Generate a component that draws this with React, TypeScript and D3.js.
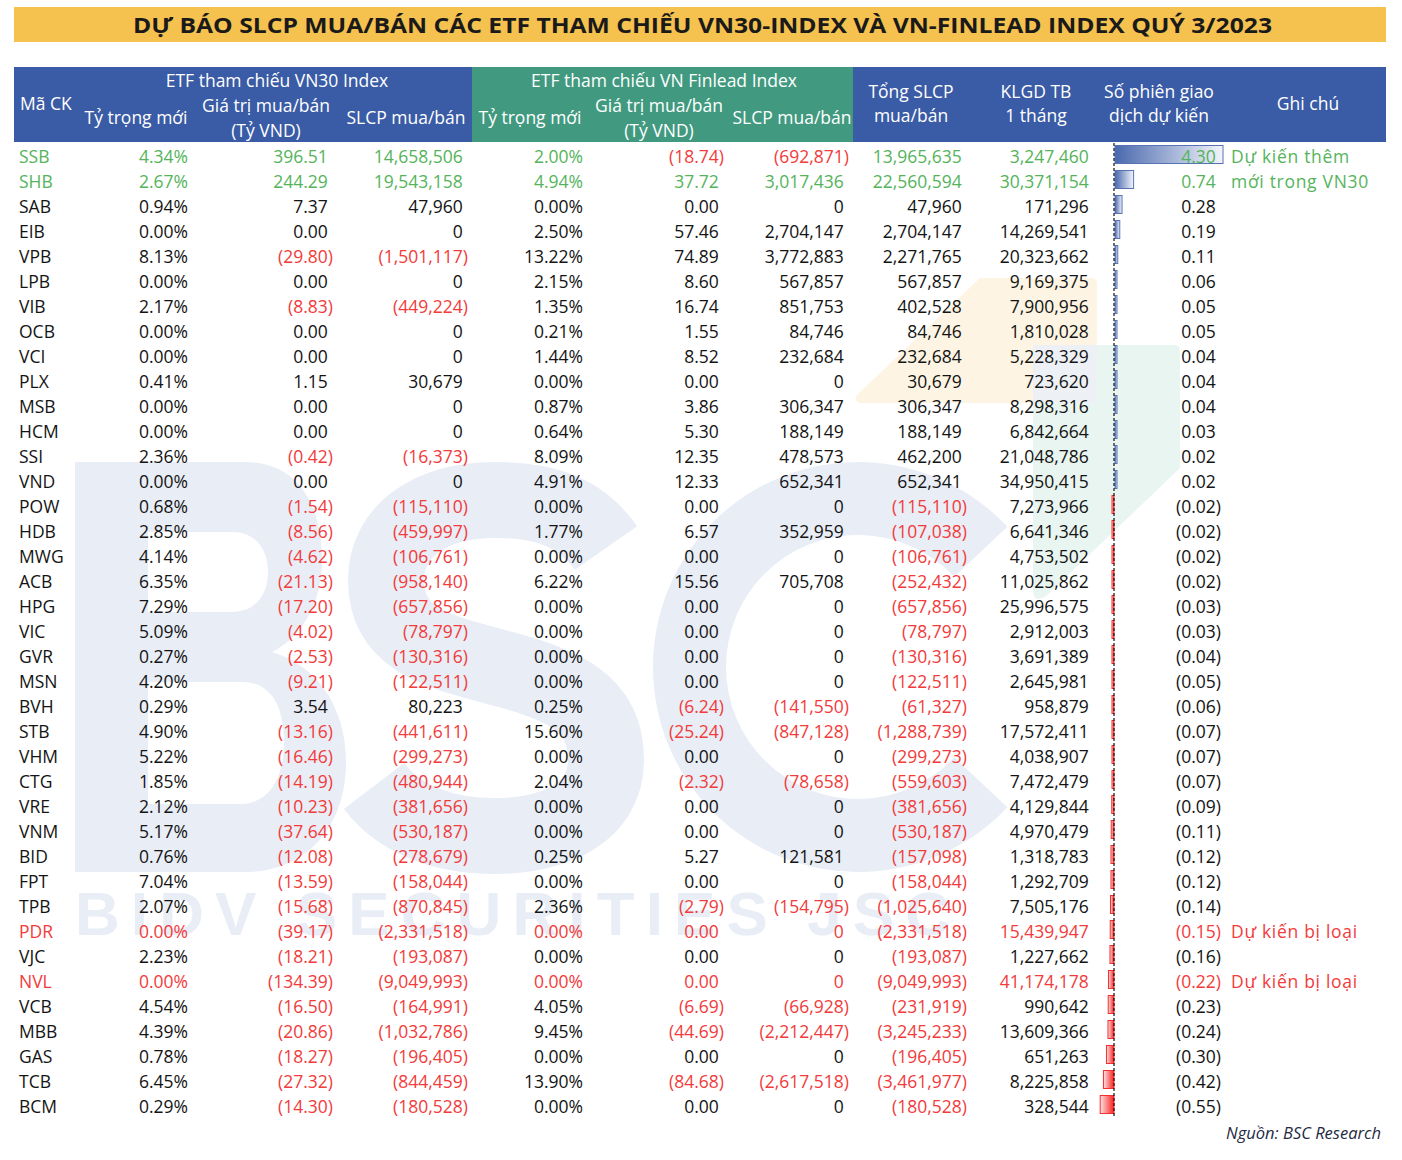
import React from "react";
import * as d3 from "d3";

// ---------------- DATA ----------------
const tickers = ["SSB","SHB","SAB","EIB","VPB","LPB","VIB","OCB","VCI","PLX","MSB","HCM","SSI","VND","POW","HDB","MWG","ACB","HPG","VIC","GVR","MSN","BVH","STB","VHM","CTG","VRE","VNM","BID","FPT","TPB","PDR","VJC","NVL","VCB","MBB","GAS","TCB","BCM"];

const vn30Weight = [4.34,2.67,0.94,0.00,8.13,0.00,2.17,0.00,0.00,0.41,0.00,0.00,2.36,0.00,0.68,2.85,4.14,6.35,7.29,5.09,0.27,4.20,0.29,4.90,5.22,1.85,2.12,5.17,0.76,7.04,2.07,0.00,2.23,0.00,4.54,4.39,0.78,6.45,0.29];
const vn30Value = [396.51,244.29,7.37,0.00,-29.80,0.00,-8.83,0.00,0.00,1.15,0.00,0.00,-0.42,0.00,-1.54,-8.56,-4.62,-21.13,-17.20,-4.02,-2.53,-9.21,3.54,-13.16,-16.46,-14.19,-10.23,-37.64,-12.08,-13.59,-15.68,-39.17,-18.21,-134.39,-16.50,-20.86,-18.27,-27.32,-14.30];
const vn30Shares = [14658506,19543158,47960,0,-1501117,0,-449224,0,0,30679,0,0,-16373,0,-115110,-459997,-106761,-958140,-657856,-78797,-130316,-122511,80223,-441611,-299273,-480944,-381656,-530187,-278679,-158044,-870845,-2331518,-193087,-9049993,-164991,-1032786,-196405,-844459,-180528];

const finWeight = [2.00,4.94,0.00,2.50,13.22,2.15,1.35,0.21,1.44,0.00,0.87,0.64,8.09,4.91,0.00,1.77,0.00,6.22,0.00,0.00,0.00,0.00,0.25,15.60,0.00,2.04,0.00,0.00,0.25,0.00,2.36,0.00,0.00,0.00,4.05,9.45,0.00,13.90,0.00];
const finValue = [-18.74,37.72,0.00,57.46,74.89,8.60,16.74,1.55,8.52,0.00,3.86,5.30,12.35,12.33,0.00,6.57,0.00,15.56,0.00,0.00,0.00,0.00,-6.24,-25.24,0.00,-2.32,0.00,0.00,5.27,0.00,-2.79,0.00,0.00,0.00,-6.69,-44.69,0.00,-84.68,0.00];
const finShares = [-692871,3017436,0,2704147,3772883,567857,851753,84746,232684,0,306347,188149,478573,652341,0,352959,0,705708,0,0,0,0,-141550,-847128,0,-78658,0,0,121581,0,-154795,0,0,0,-66928,-2212447,0,-2617518,0];

const totalShares = [13965635,22560594,47960,2704147,2271765,567857,402528,84746,232684,30679,306347,188149,462200,652341,-115110,-107038,-106761,-252432,-657856,-78797,-130316,-122511,-61327,-1288739,-299273,-559603,-381656,-530187,-157098,-158044,-1025640,-2331518,-193087,-9049993,-231919,-3245233,-196405,-3461977,-180528];
const avgVolume = [3247460,30371154,171296,14269541,20323662,9169375,7900956,1810028,5228329,723620,8298316,6842664,21048786,34950415,7273966,6641346,4753502,11025862,25996575,2912003,3691389,2645981,958879,17572411,4038907,7472479,4129844,4970479,1318783,1292709,7505176,15439947,1227662,41174178,990642,13609366,651263,8225858,328544];
const sessions = [4.30,0.74,0.28,0.19,0.11,0.06,0.05,0.05,0.04,0.04,0.04,0.03,0.02,0.02,-0.02,-0.02,-0.02,-0.02,-0.03,-0.03,-0.04,-0.05,-0.06,-0.07,-0.07,-0.07,-0.09,-0.11,-0.12,-0.12,-0.14,-0.15,-0.16,-0.22,-0.23,-0.24,-0.30,-0.42,-0.55];

const addedTickers = ["SSB","SHB"];
const removedTickers = ["PDR","NVL"];
const notes: Record<string, string> = { SSB: "Dự kiến thêm", SHB: "mới trong VN30", PDR: "Dự kiến bị loại", NVL: "Dự kiến bị loại" };

const titleText = "DỰ BÁO SLCP MUA/BÁN CÁC ETF THAM CHIẾU VN30-INDEX VÀ VN-FINLEAD INDEX QUÝ 3/2023";
const sourceText = "Nguồn: BSC Research";
const watermarkText = "BIDV SECURITIES JSC";

// ---------------- STYLE / LAYOUT ----------------
const W = 1402, H = 1160;
const FONT = "'Open Sans', 'Liberation Sans', sans-serif";
const GREEN = "#55b45b";
const RED = "#f23b3b";
const DARK = "#141414";
const BLUE_HDR = "#3a5ba5";
const GREEN_HDR = "#419a80";
const GOLD = "#f5c14f";
const WM = "#e8edf6";

const fmtPct = (v: number) => d3.format(".2f")(v) + "%";
const fmt2 = d3.format(",.2f");
const fmt0 = d3.format(",.0f");
const neg = (f: (n: number) => string) => (v: number) => (v < 0 ? `(${f(-v)})` : f(v));

type Col = { values: number[]; right: number; fmt: (v: number) => string; pad: boolean; kind: "num" | "sess" };
const columns: Col[] = [
  { values: vn30Weight, right: 188, fmt: fmtPct, pad: false, kind: "num" },
  { values: vn30Value, right: 333, fmt: neg(fmt2), pad: true, kind: "num" },
  { values: vn30Shares, right: 468, fmt: neg(fmt0), pad: true, kind: "num" },
  { values: finWeight, right: 583, fmt: fmtPct, pad: false, kind: "num" },
  { values: finValue, right: 724, fmt: neg(fmt2), pad: true, kind: "num" },
  { values: finShares, right: 849, fmt: neg(fmt0), pad: true, kind: "num" },
  { values: totalShares, right: 967, fmt: neg(fmt0), pad: true, kind: "num" },
  { values: avgVolume, right: 1094, fmt: neg(fmt0), pad: true, kind: "num" },
  { values: sessions, right: 1221, fmt: neg(fmt2), pad: true, kind: "sess" },
];

type HL = { x: number; y: number; t: string; anchor?: "start" | "middle" };
const headerLabels: HL[] = [
  { x: 20, y: 110, t: "Mã CK", anchor: "start" },
  { x: 277, y: 87, t: "ETF tham chiếu VN30 Index" },
  { x: 136, y: 124, t: "Tỷ trọng mới" },
  { x: 266, y: 112, t: "Giá trị mua/bán" },
  { x: 266, y: 137, t: "(Tỷ VND)" },
  { x: 406, y: 124, t: "SLCP mua/bán" },
  { x: 664, y: 87, t: "ETF tham chiếu VN Finlead Index" },
  { x: 530, y: 124, t: "Tỷ trọng mới" },
  { x: 659, y: 112, t: "Giá trị mua/bán" },
  { x: 659, y: 137, t: "(Tỷ VND)" },
  { x: 792, y: 124, t: "SLCP mua/bán" },
  { x: 911, y: 98, t: "Tổng SLCP" },
  { x: 911, y: 122, t: "mua/bán" },
  { x: 1036, y: 98, t: "KLGD TB" },
  { x: 1036, y: 122, t: "1 tháng" },
  { x: 1159, y: 98, t: "Số phiên giao" },
  { x: 1159, y: 122, t: "dịch dự kiến" },
  { x: 1308, y: 110, t: "Ghi chú" },
];

// watermark letter outlines (BSC logo, background artwork)
const wmB =
  "M75,462 H245 C305,462 322,515 322,560 C322,605 300,638 272,652 C318,666 346,708 346,762 C346,828 305,872 245,872 H75 Z " +
  "M148,532 H232 C258,532 268,552 268,572 C268,595 255,612 232,612 H148 Z " +
  "M148,682 H242 C272,682 284,708 284,742 C284,780 268,804 240,804 H148 Z";
const wmS =
  "M606,548 C578,508 538,500 495,500 C432,500 386,530 386,580 C386,640 440,652 496,667 C562,684 606,702 606,760 C606,812 556,836 494,836 C444,836 400,820 374,786";

export default function App() {
  const rowY = d3.scaleBand<string>().domain(tickers).range([143, 143 + 25 * tickers.length]);
  const barX = d3.scaleLinear().domain([0, 4.3]).range([1114, 1222]);
  const x0 = barX(0);
  const cArc = d3.arc()({ innerRadius: 132, outerRadius: 205, startAngle: Math.PI * 0.74, endAngle: Math.PI * 2.26 } as any) as string;

  const rowKind = (t: string) => (addedTickers.includes(t) ? "add" : removedTickers.includes(t) ? "rem" : "norm");
  const cellColor = (t: string, v: number, kind: "num" | "sess") => {
    const rk = rowKind(t);
    if (rk === "rem") return RED;
    if (v < 0) return kind === "sess" ? DARK : RED;
    return rk === "add" ? GREEN : DARK;
  };

  return (
    <svg width={W} height={H} style={{ position: "absolute", left: 0, top: 0, background: "#fff" }} fontFamily={FONT}>
      <defs>
        <linearGradient id="gPos" x1="0" x2="1" y1="0" y2="0">
          <stop offset="0" stopColor="#4a69ae" />
          <stop offset="1" stopColor="#f3f5fb" />
        </linearGradient>
        <linearGradient id="gNeg" x1="0" x2="1" y1="0" y2="0">
          <stop offset="0" stopColor="#fbe3e3" />
          <stop offset="1" stopColor="#ff1f1f" />
        </linearGradient>
      </defs>
      <rect width={W} height={H} fill="#fff" />

      {/* watermark artwork */}
      <g>
        <path d="M980,278 L1092,278 Q1097,278 1097,284 L1097,403 L862,403 Q852,402 858,394 Z" fill="#fdf4e3" />
        <path d="M1033,345 L1174,345 Q1180,345 1180,351 L1180,468 L1046,596 Q1033,604 1033,590 Z" fill="#e9f5f0" />
        <rect x={1033} y={345} width={64} height={58} fill="#edf1f6" />
        <path d={wmB} fill={WM} fillRule="evenodd" />
        <path d={wmS} fill="none" stroke={WM} strokeWidth={76} />
        <path d={cArc} transform="translate(858,667)" fill={WM} />
        <text x={75} y={935} fontFamily="'Liberation Sans', Arial, sans-serif" fontWeight="bold" fontSize={62} fill={WM}
          textLength={875} lengthAdjust="spacing">{watermarkText}</text>
      </g>

      {/* title */}
      <rect x={14} y={7} width={1372} height={35} fill={GOLD} />
      <text x={133} y={33} fontWeight="bold" fontSize={21} fill="#1a1a1a" textLength={1139} lengthAdjust="spacingAndGlyphs">{titleText}</text>

      {/* header */}
      <rect x={14} y={67} width={458} height={75} fill={BLUE_HDR} />
      <rect x={472} y={67} width={381} height={75} fill={GREEN_HDR} />
      <rect x={853} y={67} width={533} height={75} fill={BLUE_HDR} />
      <g fill="#fff" fontSize={17.5}>
        {headerLabels.map((h, i) => (
          <text key={i} x={h.x} y={h.y} textAnchor={h.anchor ?? "middle"}>{h.t}</text>
        ))}
      </g>

      {/* data bars */}
      <g>
        {tickers.map((t, i) => {
          const v = sessions[i];
          const xv = barX(v);
          const w = Math.max(2, Math.abs(xv - x0));
          const x = v >= 0 ? x0 + 1 : x0 - w;
          return (
            <rect key={t} x={x} y={(rowY(t) as number) + 2.5} width={w} height={18}
              fill={v >= 0 ? "url(#gPos)" : "url(#gNeg)"}
              stroke={v >= 0 ? "#5673b6" : "#f03030"} strokeWidth={1} />
          );
        })}
        <line x1={x0} x2={x0} y1={143} y2={1117} stroke="#111" strokeWidth={1.2} strokeDasharray="3,2" />
      </g>

      {/* body */}
      <g fontSize={17.5}>
        {tickers.map((t, i) => {
          const y = (rowY(t) as number) + 19.5;
          const rk = rowKind(t);
          return (
            <g key={t}>
              <text x={19} y={y} fill={rk === "add" ? GREEN : rk === "rem" ? RED : DARK}>{t}</text>
              {columns.map((c, j) => {
                const v = c.values[i];
                return (
                  <text key={j} x={c.right} y={y} textAnchor="end" fill={cellColor(t, v, c.kind)}>
                    {c.fmt(v)}
                    {c.pad && v >= 0 ? <tspan fillOpacity={0}>)</tspan> : null}
                  </text>
                );
              })}
              {notes[t] ? (
                <text x={1231} y={y} fill={rk === "add" ? GREEN : RED} letterSpacing={0.7}>{notes[t]}</text>
              ) : null}
            </g>
          );
        })}
      </g>

      <text x={1381} y={1139} textAnchor="end" fontStyle="italic" fontSize={16.5} fill="#1f2a44">{sourceText}</text>
    </svg>
  );
}
